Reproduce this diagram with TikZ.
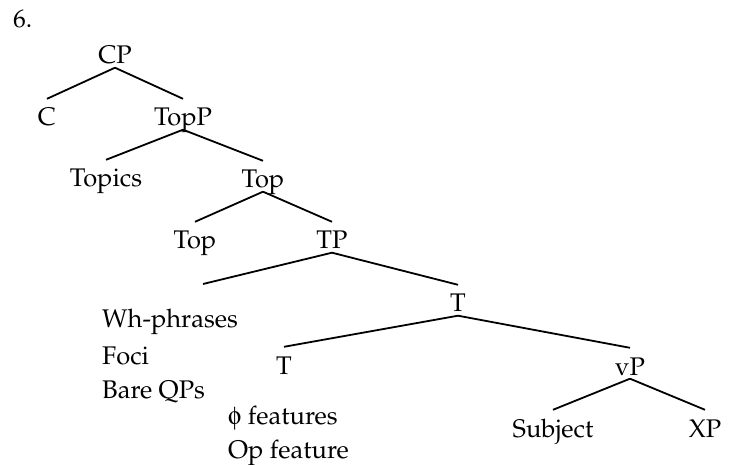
\documentclass[tikz,border=0pt]{standalone}
\usepackage[T1]{fontenc}
\usepackage{mathpazo}
\usepackage[Symbol]{upgreek}

\begin{document}
\begin{tikzpicture}[x=1pt, y=-1pt,
        cat/.style={inner sep=0pt, anchor=base, text height=27pt, text depth=3.5pt,
                    font=\fontsize{25.5}{30}\selectfont},
        lst/.style={inner sep=0pt, anchor=base west, font=\fontsize{25.5}{30}\selectfont},
        branch/.style={line width=1.8pt}]
            \useasboundingbox (0,0) rectangle (729,465);
            % Example number
            \node[lst] (six)     at ( 13, 28) {6.};
            % CP layer
            \node[cat] (cp)      at (115, 64) {CP};
            \node[cat] (c)       at ( 47,126) {C};
            \node[cat] (topp)    at (183,126) {TopP};
            \draw[branch] (cp.south) -- (c.north);
            \draw[branch] (cp.south) -- (topp.north);
            % Topic layer
            \node[cat] (topics)  at (106,187) {Topics};
            \node[cat] (topbar)  at (263,188) {Top};
            \draw[branch] (topp.south) -- (topics.north);
            \draw[branch] (topp.south) -- (topbar.north);
            \node[cat] (tophead) at (195,249) {Top};
            \node[cat] (tp)      at (332,249) {TP};
            \draw[branch] (topbar.south) -- (tophead.north);
            \draw[branch] (topbar.south) -- (tp.north);
            % TP layer: spec and T'
            \coordinate (spec) at (203,284);
            \node[cat] (tbar)    at (458,312) {T};
            \draw[branch] (tp.south) -- (spec);
            \draw[branch] (tp.south) -- (tbar.north);
            \node[lst] (wh)      at (102,328) {Wh-phrases};
            \node[lst] (foci)    at (102,364) {Foci};
            \node[lst] (bareqp)  at (102,399) {Bare QPs};
            % T head and vP
            \node[cat] (thead)   at (284,374) {T};
            \node[cat] (vp)      at (630,375) {vP};
            \draw[branch] (tbar.south) -- (thead.north);
            \draw[branch] (tbar.south) -- (vp.north);
            \node[lst] (phi)     at (228,424) {$\upphi$ features};
            \node[lst] (opfeat)  at (228,458) {Op feature};
            % vP daughters
            \node[cat] (subj)    at (553,437) {Subject};
            \node[cat] (xp)      at (705,437) {XP};
            \draw[branch] (vp.south) -- (subj.north);
            \draw[branch] (vp.south) -- (xp.north);
        \end{tikzpicture}
\end{document}
